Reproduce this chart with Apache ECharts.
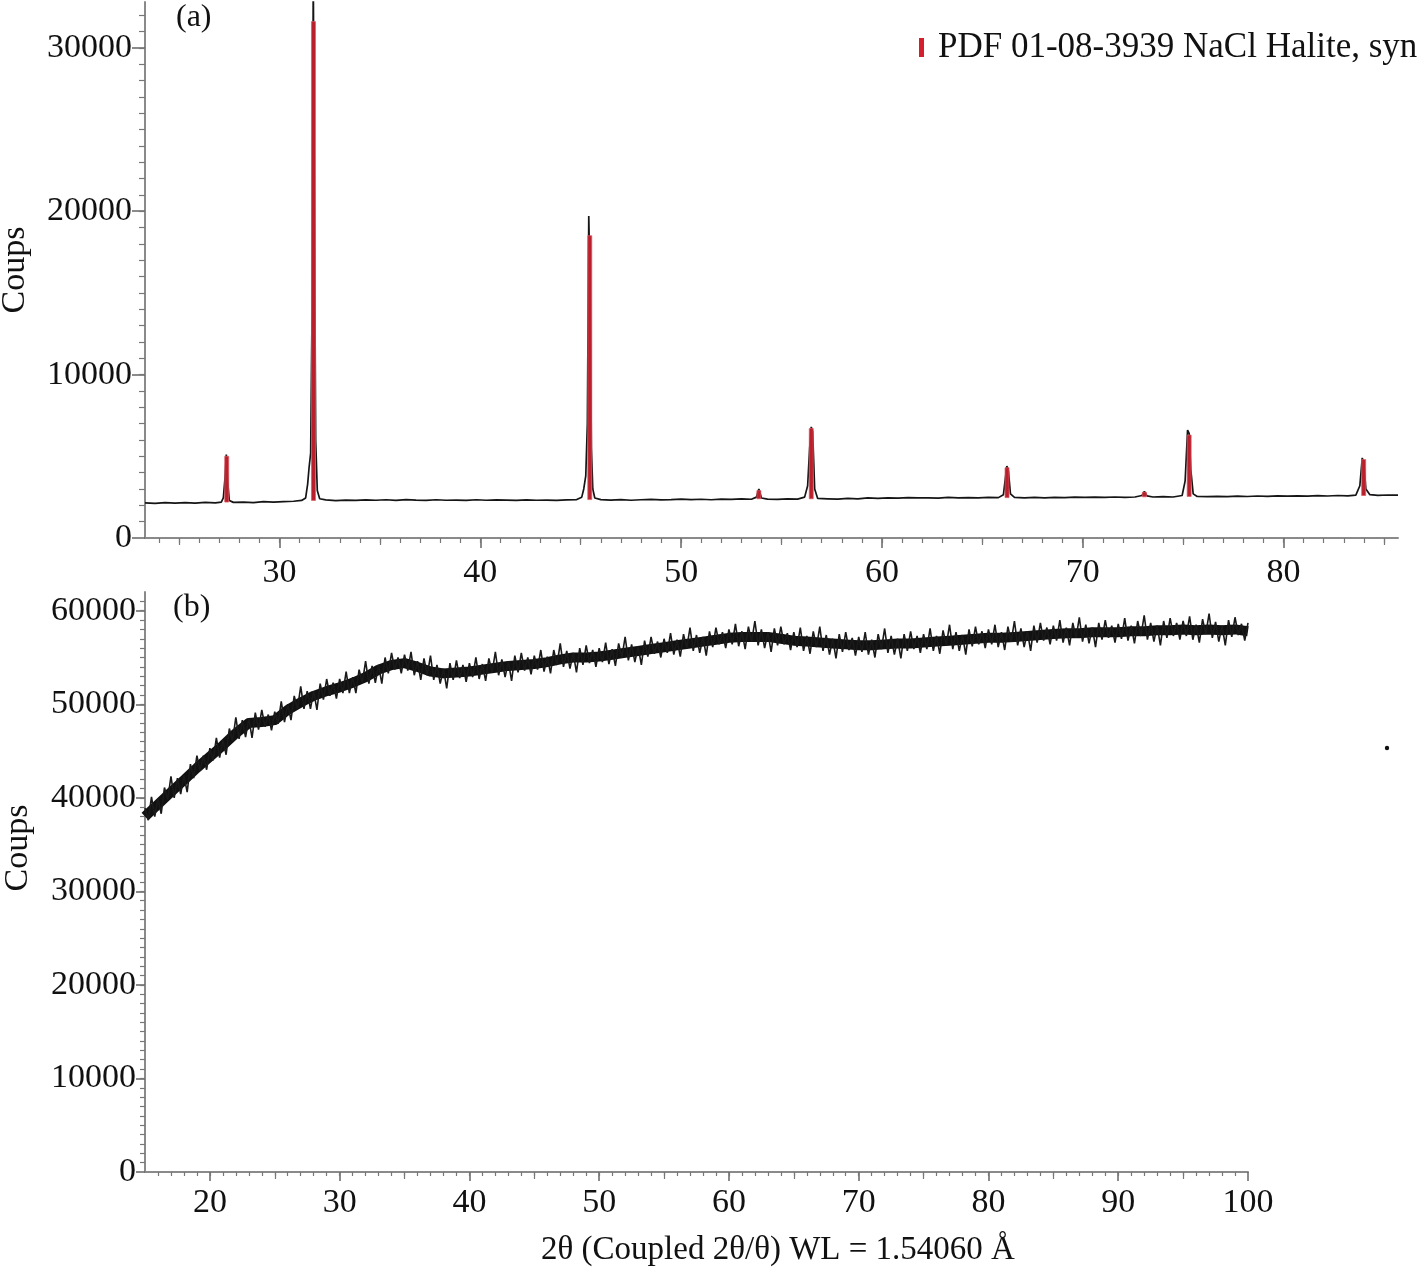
<!DOCTYPE html>
<html>
<head>
<meta charset="utf-8">
<script src="https://cdn.jsdelivr.net/npm/echarts@6/dist/echarts.min.js"></script>
<style>
  html, body { margin: 0; background: #fff; }
  #chart { width: 1418px; height: 1269px; }
</style>
</head>
<body>
<div id="chart"></div>
<script>
// (a) NaCl scan: [2theta, counts]
const topScan = [
  [23.3, 2150], [23.8, 2120], [24.3, 2170], [24.8, 2130], [25.3, 2160], [25.8, 2140],
  [26.3, 2180], [26.8, 2150], [27.1, 2200], [27.2, 2450], [27.28, 3600], [27.35, 5100],
  [27.42, 3400], [27.5, 2300], [27.7, 2180], [28.2, 2200], [28.7, 2170], [29.2, 2220],
  [29.7, 2190], [30.2, 2230], [30.7, 2250], [31.1, 2300], [31.3, 2450], [31.4, 3300],
  [31.47, 4300], [31.55, 5200], [31.62, 14000], [31.68, 34500], [31.74, 20000], [31.8, 6000],
  [31.88, 2900], [32.0, 2400], [32.3, 2330], [32.8, 2290], [33.3, 2320], [33.8, 2300],
  [34.3, 2330], [34.8, 2310], [35.3, 2340], [35.8, 2300], [36.3, 2350], [36.8, 2320],
  [37.3, 2300], [37.8, 2340], [38.3, 2310], [38.8, 2320], [39.3, 2300], [39.8, 2340],
  [40.3, 2310], [40.8, 2330], [41.3, 2320], [41.8, 2300], [42.3, 2330], [42.8, 2310],
  [43.3, 2320], [43.8, 2300], [44.3, 2330], [44.8, 2350], [45.05, 2500], [45.15, 3000],
  [45.25, 3800], [45.33, 7000], [45.4, 19700], [45.47, 15000], [45.53, 5500], [45.6, 3000],
  [45.7, 2450], [46.0, 2350], [46.5, 2320], [47.0, 2350], [47.5, 2310], [48.0, 2340],
  [48.5, 2360], [49.0, 2330], [49.5, 2350], [50.0, 2380], [50.5, 2350], [51.0, 2370],
  [51.5, 2340], [52.0, 2380], [52.5, 2360], [53.0, 2390], [53.5, 2370], [53.75, 2500],
  [53.87, 3000], [54.0, 2450], [54.3, 2380], [54.8, 2360], [55.3, 2400], [55.8, 2380],
  [56.15, 2500], [56.3, 3200], [56.4, 5500], [56.48, 6800], [56.55, 6500], [56.65, 3000],
  [56.8, 2420], [57.3, 2400], [57.8, 2380], [58.3, 2420], [58.8, 2400], [59.3, 2450],
  [59.8, 2430], [60.3, 2460], [60.8, 2440], [61.3, 2470], [61.8, 2450], [62.3, 2460],
  [62.8, 2440], [63.3, 2480], [63.8, 2450], [64.3, 2470], [64.8, 2450], [65.3, 2480],
  [65.8, 2470], [66.05, 2650], [66.15, 3700], [66.22, 4400], [66.3, 4100], [66.4, 2700],
  [66.6, 2480], [67.1, 2460], [67.6, 2480], [68.1, 2460], [68.6, 2490], [69.1, 2470],
  [69.6, 2500], [70.1, 2480], [70.6, 2500], [71.1, 2490], [71.6, 2510], [72.1, 2490],
  [72.6, 2510], [72.95, 2600], [73.07, 2850], [73.2, 2580], [73.5, 2510], [74.0, 2530],
  [74.5, 2510], [74.95, 2600], [75.1, 3500], [75.22, 6600], [75.3, 6400], [75.38, 4200],
  [75.5, 2700], [75.7, 2540], [76.2, 2530], [76.7, 2550], [77.2, 2530], [77.7, 2560],
  [78.2, 2540], [78.7, 2570], [79.2, 2550], [79.7, 2580], [80.2, 2560], [80.7, 2580],
  [81.2, 2560], [81.7, 2590], [82.2, 2570], [82.7, 2600], [83.2, 2580], [83.6, 2620],
  [83.8, 3200], [83.92, 4900], [84.0, 4600], [84.1, 3000], [84.3, 2650], [84.7, 2610],
  [85.2, 2630], [85.7, 2620]
];

// reference pattern sticks (PDF 01-08-3939)
const pdfName = 'PDF 01-08-3939 NaCl Halite, syn';
const pdfPos  = [27.37, 31.69, 45.45, 53.87, 56.48, 66.23, 73.07, 75.30, 83.99];
const pdfTop  = [5000, 31600, 18500, 2900, 6700, 4300, 2800, 6300, 4800];
const pdfBase = [2200, 2300, 2350, 2400, 2400, 2470, 2520, 2540, 2600];

// (b) scan: 15..100 deg, step 0.25
const bottomStart = 15, bottomStep = 0.25;
const bottomScan = [
  38900, 37600, 40100, 38000,  39900, 38300, 41100, 39800,  42300, 40000, 42100, 40400,
  42400, 40600, 43600, 42100,  44500, 42900, 44500, 43000,  45300, 44000, 46400, 44300,
  46200, 44600, 47400, 46100,  48600, 46300, 48300, 46500,  48500, 46400, 49100, 47300,
  49400, 47600, 48900, 47200,  49200, 47900, 50300, 48100,  50000, 48300, 50900, 49500,
  51900, 49500, 51400, 49500,  51400, 49400, 52200, 50500,  52700, 50900, 52300, 50600,
  52700, 51200, 53500, 51200,  52900, 51200, 53700, 52300,  54600, 52200, 54100, 52300,
  54200, 52200, 55000, 53300,  55500, 53700, 55000, 53300,  55300, 53600, 55600, 53100,
  54600, 52600, 54900, 53100,  55200, 52600, 54200, 52200,  53800, 51700, 54400, 52600,
  54700, 52800, 54200, 52400,  54400, 52900, 55000, 52700,  54300, 52500, 54900, 53400,
  55600, 53100, 54800, 52900,  54600, 52500, 55200, 53400,  55500, 53600, 55000, 53200,
  55200, 53700, 55800, 53500,  55100, 53300, 55800, 54200,  56500, 54000, 55700, 53800,
  55500, 53400, 56000, 54200,  56300, 54400, 55800, 54000,  56000, 54500, 56600, 54300,
  55900, 54100, 56500, 55000,  57200, 54700, 56400, 54500,  56200, 54200, 56800, 55100,
  57200, 55400, 56700, 55000,  57000, 55500, 57600, 55300,  56900, 55100, 57500, 56000,
  58200, 55700, 57400, 55500,  57200, 55200, 57800, 56100,  58200, 56400, 57700, 56000,
  58000, 56400, 58600, 56200,  57800, 55900, 58300, 56700,  58900, 56300, 58000, 56000,
  57700, 55600, 58100, 56300,  58300, 56400, 57600, 55800,  57700, 56100, 58200, 55700,
  57300, 55400, 57800, 56100,  58300, 55700, 57400, 55300,  57000, 54900, 57500, 55600,
  57700, 55800, 57100, 55200,  57200, 55600, 57700, 55300,  56900, 55000, 57500, 55900,
  58100, 55500, 57300, 55300,  57000, 54900, 57500, 55700,  57800, 55900, 57300, 55500,
  57500, 55900, 58100, 55700,  57300, 55400, 57900, 56300,  58500, 55900, 57700, 55700,
  57400, 55300, 58000, 56200,  58300, 56400, 57800, 56000,  58000, 56400, 58500, 56100,
  57700, 55800, 58300, 56700,  58900, 56300, 58100, 56100,  57800, 55700, 58400, 56600,
  58700, 56800, 58200, 56400,  58400, 56800, 59000, 56600,  58200, 56300, 58700, 57100,
  59300, 56700, 58500, 56500,  58200, 56100, 58700, 56900,  59000, 57100, 58400, 56600,
  58600, 57000, 59200, 56800,  58400, 56500, 58900, 57300,  59500, 56900, 58700, 56700,
  58400, 56300, 58900, 57100,  59200, 57300, 58700, 56900,  58900, 57300, 59400, 56900,
  58500, 56600, 59100, 57500,  59700, 57100, 58800, 56700,  58400, 56300, 59000, 57200,
  59300, 57400, 58600, 56800,  58700
];
// dense core of the (b) band, one value per degree 15..100
const bottomTrend = [
  38000, 39300, 40600, 41900, 43200, 44400, 45600, 46900, 48000, 48100,
  48300, 49400, 50200, 50900, 51400, 51800, 52300, 52900, 53700, 54200,
  54400, 54000, 53500, 53300, 53400, 53500, 53700, 53900, 54100, 54200,
  54300, 54500, 54800, 55000, 55000, 55100, 55300, 55500, 55700, 55900,
  56100, 56300, 56500, 56700, 56900, 57100, 57200, 57200, 57200, 57000,
  56800, 56700, 56600, 56500, 56400, 56300, 56300, 56400, 56500, 56500,
  56600, 56700, 56800, 56900, 57000, 57100, 57100, 57200, 57300, 57400,
  57500, 57600, 57600, 57700, 57700, 57700, 57800, 57800, 57900, 57900,
  58000, 57900, 58000, 57900, 58000, 57800
];

// axis ticks
const topXLabels = [30, 40, 50, 60, 70, 80];
const topYLabels = [0, 10000, 20000, 30000];
const botXLabels = [20, 30, 40, 50, 60, 70, 80, 90, 100];
const botYLabels = [0, 10000, 20000, 30000, 40000, 50000, 60000];

const range = (a, b, s) => { const r = []; for (let v = a; v <= b + 1e-9; v += s) r.push(+v.toFixed(3)); return r; };
const topXMinor = range(24, 85, 1);
const topXMid = [25, 35, 45, 55, 65, 75, 85];
const topYMinor = range(1000, 32000, 1000);
const botXMinor = range(16, 99, 1);
const botXMid = [25, 35, 45, 55, 65, 75, 85, 95];
const botYMinor = range(1000, 61000, 1000);

const serif = '"Liberation Serif", "DejaVu Serif", serif';
const axisGrey = '#8a8a8a';

const chart = echarts.init(document.getElementById('chart'));

function majorAxis(grid, min, max, labels, tickLen, margin, pos) {
  return {
    type: 'value', gridIndex: grid, min: min, max: max, position: pos,
    axisLine: { show: true, onZero: false, lineStyle: { color: axisGrey, width: 2 } },
    axisTick: { show: true, length: tickLen, customValues: labels, lineStyle: { color: '#666', width: 1.5 } },
    axisLabel: { show: true, customValues: labels, margin: margin, color: '#111',
      fontFamily: serif, fontSize: 34, formatter: v => String(v) },
    splitLine: { show: false }
  };
}
function minorAxis(grid, min, max, values, tickLen, pos) {
  return {
    type: 'value', gridIndex: grid, min: min, max: max, position: pos,
    axisLine: { show: false, onZero: false },
    axisTick: { show: true, length: tickLen, customValues: values, lineStyle: { color: '#777', width: 1.2 } },
    axisLabel: { show: false },
    splitLine: { show: false }
  };
}

const option = {
  backgroundColor: '#fff',
  animation: false,
  grid: [
    { left: 145, right: 20, top: 2, height: 536 },
    { left: 145, right: 170, top: 592, height: 580 }
  ],
  legend: {
    data: [pdfName],
    left: 914, top: 25,
    itemWidth: 5, itemHeight: 19, itemGap: 10,
    icon: 'rect',
    textStyle: { fontFamily: serif, fontSize: 35, color: '#111', padding: [0, 0, 0, 9] }
  },
  xAxis: [
    majorAxis(0, 23.3, 85.7, topXLabels, 10, 18, 'bottom'),
    minorAxis(0, 23.3, 85.7, topXMinor, 5, 'bottom'),
    minorAxis(0, 23.3, 85.7, topXMid, 7, 'bottom'),
    majorAxis(1, 15, 100, botXLabels, 9, 14, 'bottom'),
    minorAxis(1, 15, 100, botXMinor, 4, 'bottom'),
    minorAxis(1, 15, 100, botXMid, 7, 'bottom')
  ],
  yAxis: [
    majorAxis(0, 0, 32800, topYLabels, 13, 13, 'left'),
    minorAxis(0, 0, 32800, topYMinor, 6, 'left'),
    majorAxis(1, 0, 62000, botYLabels, 9, 9, 'left'),
    minorAxis(1, 0, 62000, botYMinor, 5, 'left')
  ],
  series: [
    {
      type: 'line', xAxisIndex: 0, yAxisIndex: 0,
      data: topScan, showSymbol: false, symbol: 'none', clip: true,
      lineStyle: { color: '#151515', width: 1.7 }, z: 2
    },
    {
      name: pdfName,
      type: 'custom', xAxisIndex: 0, yAxisIndex: 0,
      itemStyle: { color: '#d41f2d' },
      encode: { x: 0, y: [1, 2] },
      data: pdfPos.map((p, i) => [p, pdfBase[i], pdfTop[i]]),
      renderItem: function (params, api) {
        const b = api.coord([api.value(0), api.value(1)]);
        const t = api.coord([api.value(0), api.value(2)]);
        return {
          type: 'rect',
          shape: { x: b[0] - 2, y: t[1], width: 4, height: b[1] - t[1] },
          style: { fill: '#b9202d', stroke: 'rgba(220,90,100,0.7)', lineWidth: 1 }
        };
      },
      z: 3
    },
    {
      type: 'line', xAxisIndex: 3, yAxisIndex: 2,
      data: bottomTrend.map((v, i) => [bottomStart + i, v]),
      showSymbol: false, symbol: 'none',
      lineStyle: { color: '#111', width: 10, join: 'round', cap: 'butt' }, z: 2
    },
    {
      type: 'line', xAxisIndex: 3, yAxisIndex: 2,
      data: bottomScan.map((v, i) => [bottomStart + i * bottomStep, v]),
      showSymbol: false, symbol: 'none',
      lineStyle: { color: '#1a1a1a', width: 1.6 }, z: 3
    }
  ],
  graphic: [
    { type: 'text', left: 176, top: 2,
      style: { text: '(a)', font: '32px ' + serif, fill: '#111' } },
    { type: 'text', left: 173, top: 592,
      style: { text: '(b)', font: '32px ' + serif, fill: '#111' } },
    { type: 'text', x: 15, y: 270, rotation: Math.PI / 2,
      style: { text: 'Coups', font: '34px ' + serif, fill: '#111', align: 'center', verticalAlign: 'middle' } },
    { type: 'text', x: 18, y: 848, rotation: Math.PI / 2,
      style: { text: 'Coups', font: '34px ' + serif, fill: '#111', align: 'center', verticalAlign: 'middle' } },
    { type: 'text', x: 778, y: 1250,
      style: { text: '2θ (Coupled 2θ/θ) WL = 1.54060 Å', font: '33px ' + serif, fill: '#111',
        align: 'center', verticalAlign: 'middle' } },
    { type: 'circle', shape: { cx: 1387, cy: 748, r: 2.2 }, style: { fill: '#111' } }
  ]
};

chart.setOption(option);
window.addEventListener('resize', () => chart.resize());
</script>
</body>
</html>
